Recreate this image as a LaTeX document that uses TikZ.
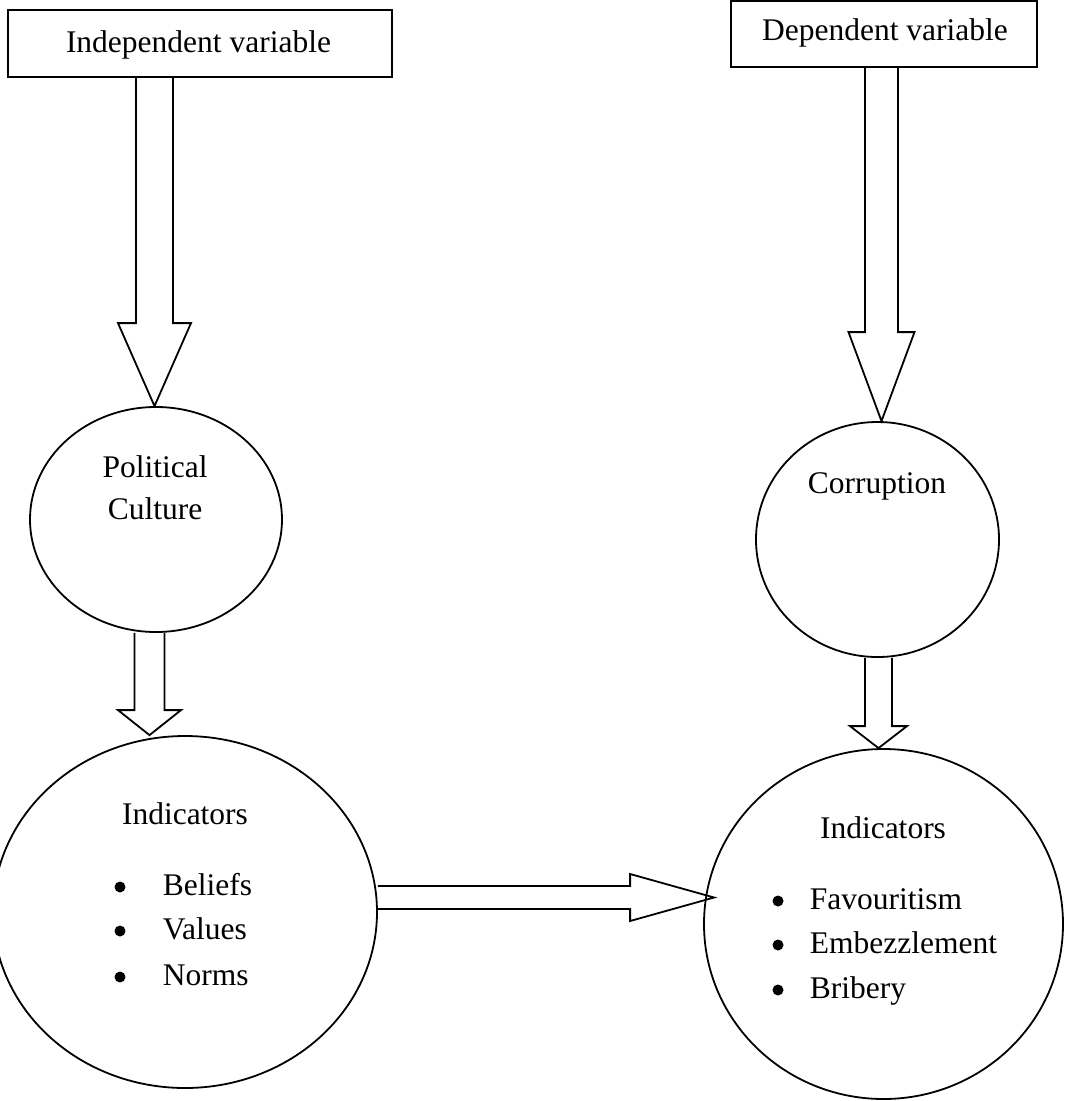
\documentclass[tikz,border=0pt]{standalone}
\usepackage{fontspec}
\setmainfont{Liberation Serif}
\usetikzlibrary{shapes.geometric,calc}
\newcommand\dnarrow[5]{\draw[barrow] ($(#1)+(-#3,0)$) -- ($(#2)+(-#3,-#5)$) -- ($(#2)+(-#4,-#5)$) -- (#2) -- ($(#2)+(#4,-#5)$) -- ($(#2)+(#3,-#5)$) -- ($(#1)+(#3,0)$);}
\newcommand\rtarrow[5]{\draw[barrow] ($(#1)+(0,-#3)$) -- ($(#2)+(-#5,-#3)$) -- ($(#2)+(-#5,-#4)$) -- (#2) -- ($(#2)+(-#5,#4)$) -- ($(#2)+(-#5,#3)$) -- ($(#1)+(0,#3)$);}
\begin{document}
\begin{tikzpicture}[x=1pt,y=-1pt,line width=1.8pt,
  varbox/.style={draw, rectangle, inner sep=0pt},
  oval/.style={draw, ellipse, inner sep=0pt},
  txt/.style={anchor=base, inner sep=0pt, font=\fontsize{31.5}{45}\selectfont},
  ltxt/.style={txt, anchor=base west},
  dot/.style={circle, fill=black, inner sep=0pt, minimum size=11pt},
  barrow/.style={draw, line join=miter}]
\useasboundingbox (0,0) rectangle (1065,1101);
\clip (0,0) rectangle (1065,1101);

% boxes
\node[varbox, minimum width=384pt, minimum height=67pt] (box1) at (200,43.5) {};
\node[varbox, minimum width=306pt, minimum height=66pt] (box2) at (884,34) {};
\node[txt] (t1) at (198.5,52) {Independent variable};
\node[txt] (t2) at (885,40) {Dependent variable};

% ellipses
\node[oval, minimum width=252pt, minimum height=225pt] (pc) at (156,519.5) {};
\node[oval, minimum width=384pt, minimum height=352pt] (li) at (185,912) {};
\node[oval, minimum width=243pt, minimum height=235pt] (co) at (877.5,539.5) {};
\node[oval, minimum width=359pt, minimum height=350pt] (ri) at (883.5,924) {};

% texts
\node[txt] (pc1) at (155,477) {Political};
\node[txt] (pc2) at (155,519) {Culture};
\node[txt] (cot) at (877,493) {Corruption};
\node[txt] (lit) at (185,824) {Indicators};
\node[txt] (rit) at (883,838) {Indicators};

\node[dot] (lb1) at (120,887) {};
\node[dot] (lb2) at (120,931) {};
\node[dot] (lb3) at (120,977) {};
\node[ltxt] (l1) at (162,895) {Beliefs};
\node[ltxt] (l2) at (162,939) {Values};
\node[ltxt] (l3) at (162,985) {Norms};

\node[dot] (rb1) at (778,901) {};
\node[dot] (rb2) at (778,945) {};
\node[dot] (rb3) at (778,990) {};
\node[ltxt] (r1) at (809,909) {Favouritism};
\node[ltxt] (r2) at (809,953) {Embezzlement};
\node[ltxt] (r3) at (809,998) {Bribery};

% block arrows
\coordinate (c1) at (154.5,0);
\coordinate (a1s) at (c1 |- box1.south);
\coordinate (a1t) at (c1 |- pc.north);
\dnarrow{a1s}{a1t}{18.5}{36.5}{83}

\coordinate (c2) at (149.5,0);
\coordinate (a2s) at (c2 |- pc.south);
\coordinate (a2t) at (c2 |- li.north);
\dnarrow{a2s}{a2t}{15}{31.5}{25}

\coordinate (c3) at (881.5,0);
\coordinate (a3s) at (c3 |- box2.south);
\coordinate (a3t) at (c3 |- co.north);
\dnarrow{a3s}{a3t}{16.5}{33}{89}

\coordinate (c4) at (878.5,0);
\coordinate (a4s) at (c4 |- co.south);
\coordinate (a4t) at (c4 |- ri.north);
\dnarrow{a4s}{a4t}{13.5}{28.5}{22}

\coordinate (c5) at (0,897.5);
\coordinate (a5s) at (li.east |- c5);
\coordinate (a5t) at ($(ri.west |- c5)+(11,0)$);
\rtarrow{a5s}{a5t}{11.5}{23.5}{84}
\end{tikzpicture}
\end{document}
